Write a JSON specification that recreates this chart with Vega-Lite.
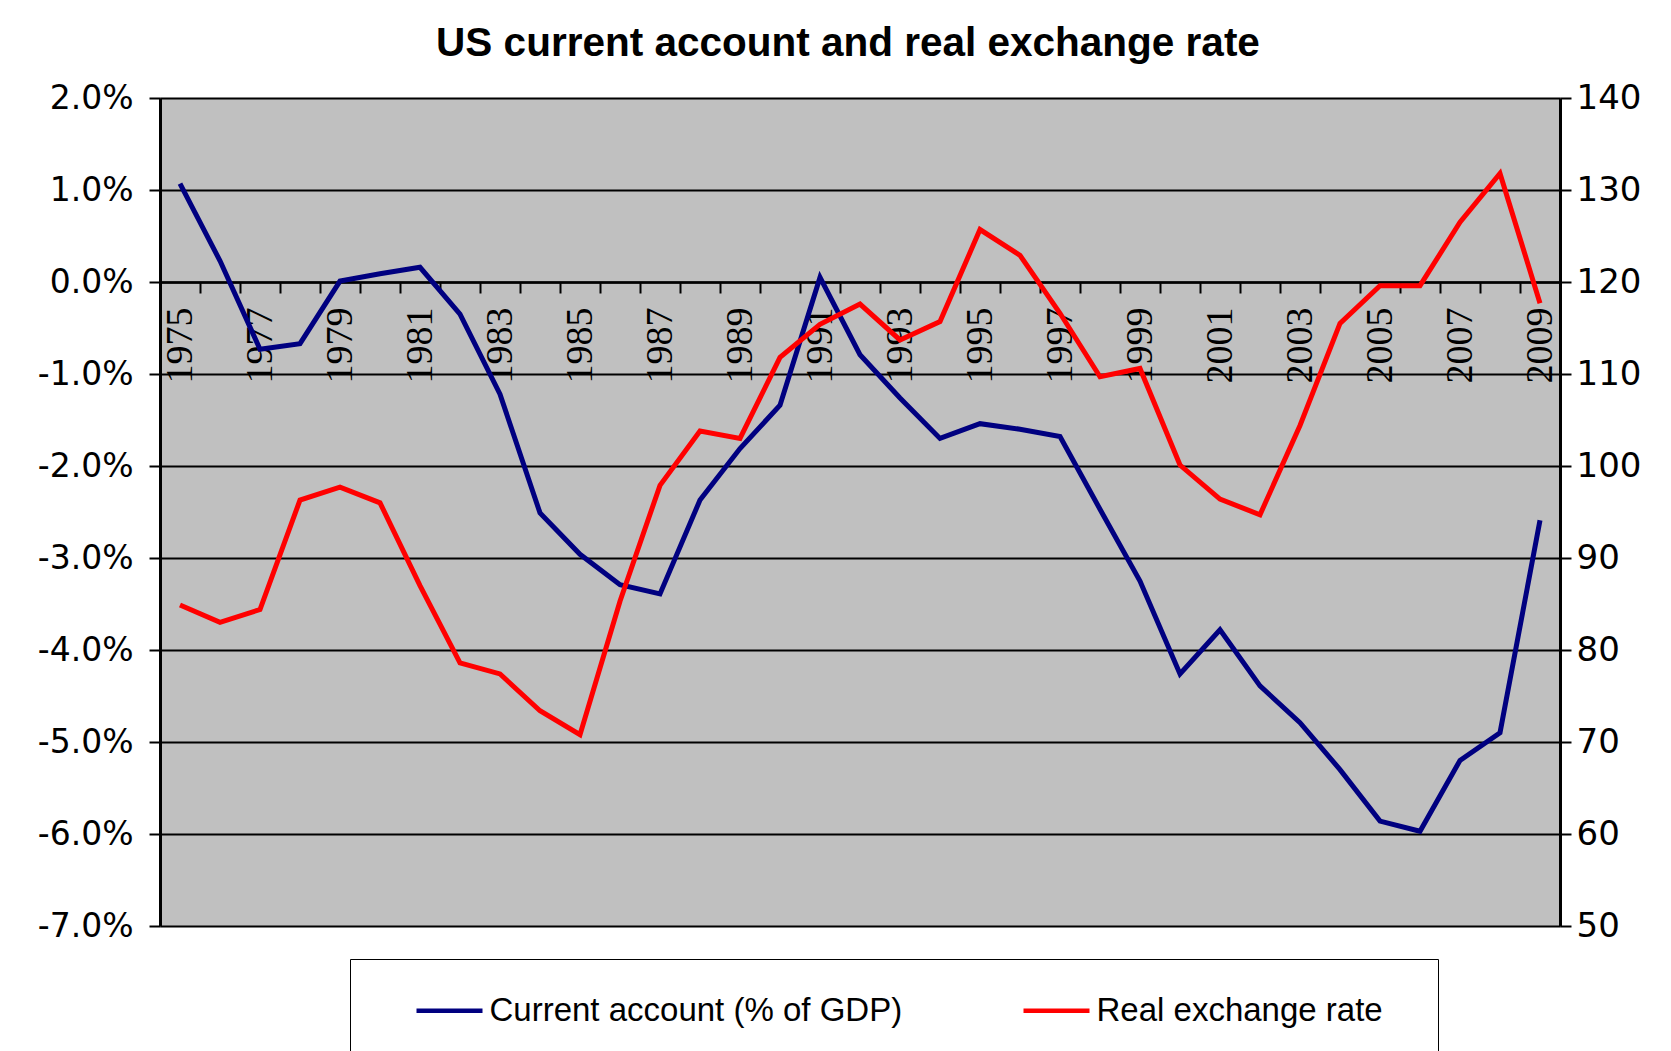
{
  "$schema": "https://vega.github.io/schema/vega-lite/v6.json",
  "width": 1400,
  "height": 828,
  "autosize": {"type": "none"},
  "padding": {"left": 160, "top": 98, "right": 111, "bottom": 125},
  "background": "white",
  "title": {"text": "US current account and real exchange rate", "font": "Liberation Sans", "fontSize": 40.5, "fontWeight": "bold", "color": "black", "anchor": "middle", "dx": -12, "offset": 17},
  "config": {"view": {"fill": "#C0C0C0", "stroke": null}},
  "data": {"values": [
    {"year": 1975, "series": "Current account (% of GDP)", "value": 1.07},
    {"year": 1976, "series": "Current account (% of GDP)", "value": 0.23},
    {"year": 1977, "series": "Current account (% of GDP)", "value": -0.73},
    {"year": 1978, "series": "Current account (% of GDP)", "value": -0.67},
    {"year": 1979, "series": "Current account (% of GDP)", "value": 0.01},
    {"year": 1980, "series": "Current account (% of GDP)", "value": 0.09},
    {"year": 1981, "series": "Current account (% of GDP)", "value": 0.16},
    {"year": 1982, "series": "Current account (% of GDP)", "value": -0.35},
    {"year": 1983, "series": "Current account (% of GDP)", "value": -1.22},
    {"year": 1984, "series": "Current account (% of GDP)", "value": -2.51},
    {"year": 1985, "series": "Current account (% of GDP)", "value": -2.96},
    {"year": 1986, "series": "Current account (% of GDP)", "value": -3.29},
    {"year": 1987, "series": "Current account (% of GDP)", "value": -3.39},
    {"year": 1988, "series": "Current account (% of GDP)", "value": -2.37},
    {"year": 1989, "series": "Current account (% of GDP)", "value": -1.81},
    {"year": 1990, "series": "Current account (% of GDP)", "value": -1.34},
    {"year": 1991, "series": "Current account (% of GDP)", "value": 0.05},
    {"year": 1992, "series": "Current account (% of GDP)", "value": -0.79},
    {"year": 1993, "series": "Current account (% of GDP)", "value": -1.26},
    {"year": 1994, "series": "Current account (% of GDP)", "value": -1.70},
    {"year": 1995, "series": "Current account (% of GDP)", "value": -1.54},
    {"year": 1996, "series": "Current account (% of GDP)", "value": -1.60},
    {"year": 1997, "series": "Current account (% of GDP)", "value": -1.68},
    {"year": 1998, "series": "Current account (% of GDP)", "value": -2.47},
    {"year": 1999, "series": "Current account (% of GDP)", "value": -3.25},
    {"year": 2000, "series": "Current account (% of GDP)", "value": -4.26},
    {"year": 2001, "series": "Current account (% of GDP)", "value": -3.78},
    {"year": 2002, "series": "Current account (% of GDP)", "value": -4.39},
    {"year": 2003, "series": "Current account (% of GDP)", "value": -4.79},
    {"year": 2004, "series": "Current account (% of GDP)", "value": -5.30},
    {"year": 2005, "series": "Current account (% of GDP)", "value": -5.86},
    {"year": 2006, "series": "Current account (% of GDP)", "value": -5.97},
    {"year": 2007, "series": "Current account (% of GDP)", "value": -5.20},
    {"year": 2008, "series": "Current account (% of GDP)", "value": -4.90},
    {"year": 2009, "series": "Current account (% of GDP)", "value": -2.59},
    {"year": 1975, "series": "Real exchange rate", "value": 84.9},
    {"year": 1976, "series": "Real exchange rate", "value": 83.0},
    {"year": 1977, "series": "Real exchange rate", "value": 84.4},
    {"year": 1978, "series": "Real exchange rate", "value": 96.3},
    {"year": 1979, "series": "Real exchange rate", "value": 97.7},
    {"year": 1980, "series": "Real exchange rate", "value": 96.0},
    {"year": 1981, "series": "Real exchange rate", "value": 87.0},
    {"year": 1982, "series": "Real exchange rate", "value": 78.6},
    {"year": 1983, "series": "Real exchange rate", "value": 77.4},
    {"year": 1984, "series": "Real exchange rate", "value": 73.4},
    {"year": 1985, "series": "Real exchange rate", "value": 70.8},
    {"year": 1986, "series": "Real exchange rate", "value": 85.3},
    {"year": 1987, "series": "Real exchange rate", "value": 97.9},
    {"year": 1988, "series": "Real exchange rate", "value": 103.8},
    {"year": 1989, "series": "Real exchange rate", "value": 103.0},
    {"year": 1990, "series": "Real exchange rate", "value": 111.8},
    {"year": 1991, "series": "Real exchange rate", "value": 115.4},
    {"year": 1992, "series": "Real exchange rate", "value": 117.6},
    {"year": 1993, "series": "Real exchange rate", "value": 113.7},
    {"year": 1994, "series": "Real exchange rate", "value": 115.7},
    {"year": 1995, "series": "Real exchange rate", "value": 125.7},
    {"year": 1996, "series": "Real exchange rate", "value": 122.9},
    {"year": 1997, "series": "Real exchange rate", "value": 116.6},
    {"year": 1998, "series": "Real exchange rate", "value": 109.7},
    {"year": 1999, "series": "Real exchange rate", "value": 110.6},
    {"year": 2000, "series": "Real exchange rate", "value": 100.1},
    {"year": 2001, "series": "Real exchange rate", "value": 96.4},
    {"year": 2002, "series": "Real exchange rate", "value": 94.7},
    {"year": 2003, "series": "Real exchange rate", "value": 104.4},
    {"year": 2004, "series": "Real exchange rate", "value": 115.5},
    {"year": 2005, "series": "Real exchange rate", "value": 119.6},
    {"year": 2006, "series": "Real exchange rate", "value": 119.6},
    {"year": 2007, "series": "Real exchange rate", "value": 126.5},
    {"year": 2008, "series": "Real exchange rate", "value": 131.8},
    {"year": 2009, "series": "Real exchange rate", "value": 117.7}
  ]},
  "encoding": {
    "x": {
      "field": "year", "type": "ordinal", "bandPosition": 0.5,
      "scale": {"type": "band", "paddingInner": 0, "paddingOuter": 0},
      "axis": {
        "orient": "bottom", "offset": -644, "tickBand": "extent", "labelAngle": -90,
        "labelExpr": "datum.value % 2 == 1 ? datum.label : ''",
        "labelFont": "Liberation Sans Narrow", "labelFontSize": 38, "labelColor": "black",
        "labelPadding": 14, "labelOverlap": false,
        "tickSize": 11, "tickColor": "black", "tickWidth": 2,
        "domainColor": "black", "domainWidth": 2.5, "grid": false, "title": null
      }
    },
    "color": {
      "field": "series", "type": "nominal",
      "scale": {"domain": ["Current account (% of GDP)", "Real exchange rate"], "range": ["#000080", "#FF0000"]},
      "legend": {
        "orient": "none", "legendX": 190, "legendY": 861, "direction": "horizontal",
        "title": ["\u00a0", "\u00a0", "\u00a0", "\u00a0"], "titleOrient": "right", "titlePadding": 39, "titleFontSize": 33, "titleLineHeight": 33,
        "fillColor": "white", "strokeColor": "black", "padding": 16,
        "symbolType": "stroke", "symbolStrokeWidth": 4.5, "symbolSize": 4356, "symbolOffset": 48,
        "labelOffset": 4.5, "labelFont": "Liberation Sans", "labelFontSize": 33, "labelColor": "black",
        "columnPadding": 70, "labelLimit": 1000
      }
    }
  },
  "layer": [
    {
      "transform": [{"filter": "datum.series == 'Current account (% of GDP)'"}],
      "mark": {"type": "line", "strokeWidth": 5},
      "encoding": {
        "y": {
          "field": "value", "type": "quantitative",
          "scale": {"domain": [-7, 2], "nice": false, "zero": false},
          "axis": {
            "orient": "left", "values": [-7, -6, -5, -4, -3, -2, -1, 0, 1, 2],
            "labelExpr": "(datum.value < 0 ? '-' : '') + format(abs(datum.value), '.1f') + '%'",
            "grid": true, "gridColor": "black", "gridWidth": 2, "gridOpacity": 1,
            "domainColor": "black", "domainWidth": 3, "tickColor": "black", "tickSize": 11, "tickWidth": 2,
            "labelFont": "DejaVu Sans", "labelFontSize": 33, "labelColor": "black", "labelPadding": 16,
            "title": null
          }
        }
      }
    },
    {
      "transform": [{"filter": "datum.series == 'Real exchange rate'"}],
      "mark": {"type": "line", "strokeWidth": 5},
      "encoding": {
        "y": {
          "field": "value", "type": "quantitative",
          "scale": {"domain": [50, 140], "nice": false, "zero": false},
          "axis": {
            "orient": "right", "values": [50, 60, 70, 80, 90, 100, 110, 120, 130, 140],
            "grid": false,
            "domainColor": "black", "domainWidth": 3, "tickColor": "black", "tickSize": 11, "tickWidth": 2,
            "labelFont": "DejaVu Sans", "labelFontSize": 34, "labelColor": "black", "labelPadding": 5,
            "title": null
          }
        }
      }
    }
  ],
  "resolve": {"scale": {"y": "independent"}}
}
